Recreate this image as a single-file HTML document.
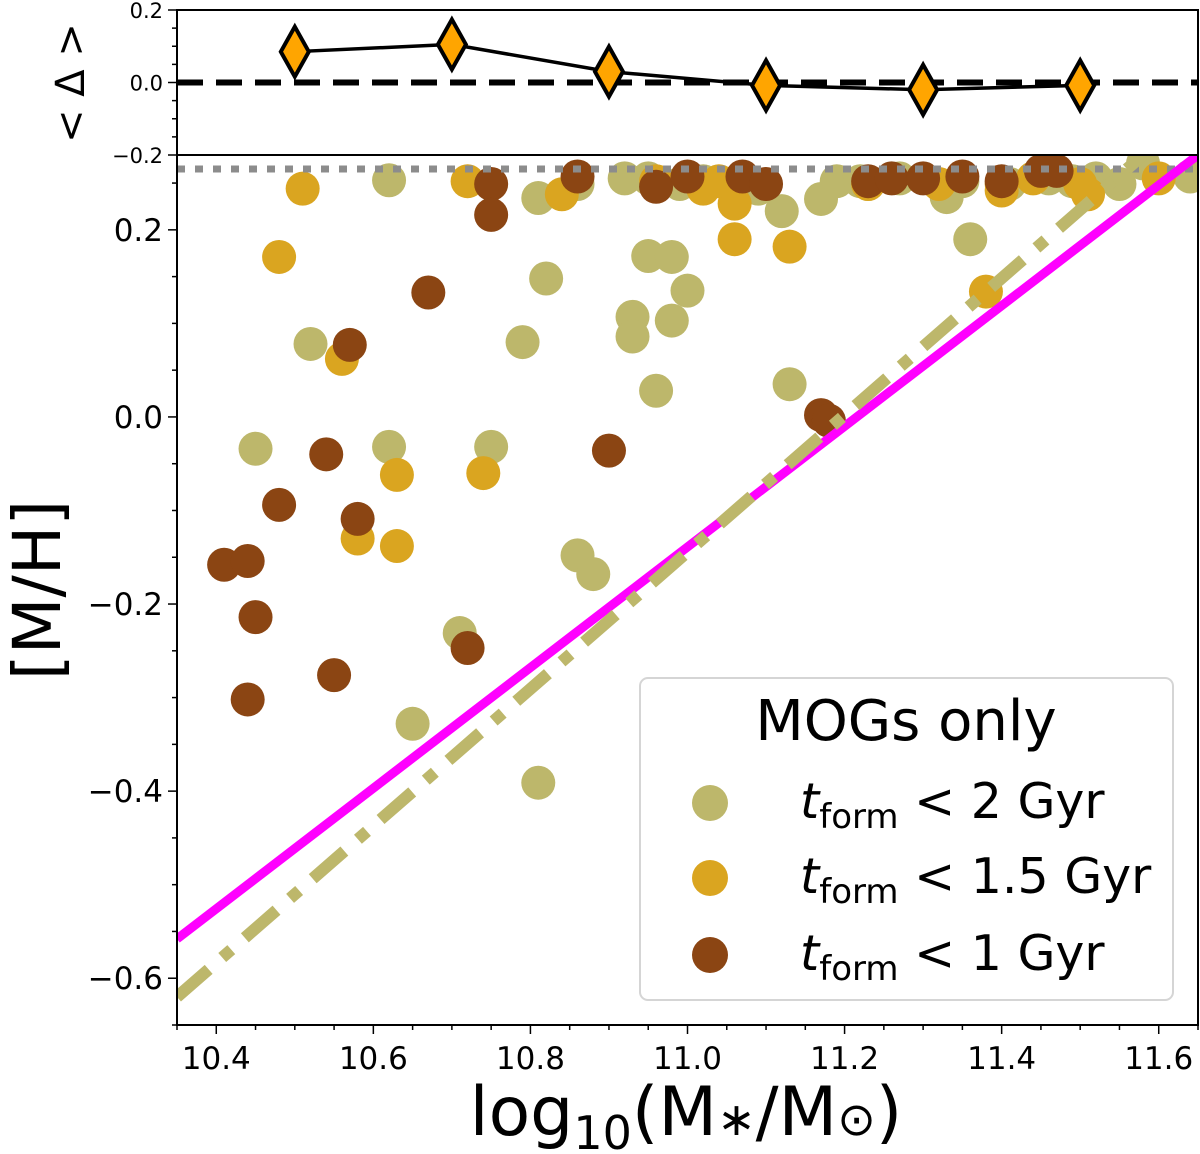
<!DOCTYPE html>
<html><head><meta charset="utf-8"><style>
body{margin:0;background:#fff;}
svg{display:block;font-family:"DejaVu Sans","Liberation Sans",sans-serif;}
</style></head><body>
<svg id="chart" width="1200" height="1154" viewBox="0 0 1200 1154"></svg>
<script>
const xTicks=[10.4,10.6,10.8,11.0,11.2,11.4,11.6];
const xTickLabels=["10.4","10.6","10.8","11.0","11.2","11.4","11.6"];
const yTicks=[0.2,0.0,-0.2,-0.4,-0.6];
const yTickLabels=["0.2","0.0","\u22120.2","\u22120.4","\u22120.6"];
const topTicks=[0.2,0.0,-0.2];
const topTickLabels=["0.2","0.0","\u22120.2"];
const binX=[10.5,10.7,10.9,11.1,11.3,11.5];
const binDelta=[0.085,0.105,0.03,-0.008,-0.02,-0.008];
const khakiX=[10.62,10.81,10.86,10.92,10.95,10.99,11.02,11.07,11.12,11.17,11.19,11.23,11.27,11.33,11.36,11.41,11.49,11.52,11.58,11.64,10.95,10.98,10.82,10.93,11.00,10.98,10.52,10.79,10.93,10.96,11.13,10.45,10.62,10.75,10.86,10.88,10.71,10.65,10.81,11.22,11.09,11.55,11.46,11.35];
const khakiY=[0.253,0.234,0.249,0.255,0.255,0.249,0.252,0.249,0.220,0.233,0.252,0.249,0.255,0.235,0.190,0.249,0.252,0.255,0.271,0.257,0.172,0.171,0.148,0.107,0.135,0.103,0.078,0.080,0.086,0.028,0.035,-0.034,-0.032,-0.032,-0.148,-0.168,-0.231,-0.328,-0.391,0.252,0.244,0.249,0.255,0.252];
const orangeX=[10.51,10.48,10.56,10.63,10.74,10.58,10.63,10.72,10.84,11.02,11.06,11.06,11.13,11.38,11.40,11.50,11.23,11.32,10.96,11.44,11.51,11.04,11.60,11.40];
const orangeY=[0.244,0.171,0.062,-0.062,-0.060,-0.130,-0.138,0.252,0.238,0.244,0.228,0.190,0.182,0.134,0.249,0.249,0.249,0.249,0.252,0.255,0.238,0.252,0.255,0.242];
const brownX=[10.86,10.75,10.75,10.96,11.00,11.07,11.10,11.23,11.26,11.30,11.35,11.40,11.45,11.47,10.67,10.57,10.54,10.58,10.90,11.17,11.18,10.48,10.41,10.44,10.45,10.55,10.72,10.44];
const brownY=[0.257,0.249,0.216,0.246,0.257,0.257,0.249,0.252,0.255,0.255,0.257,0.252,0.263,0.263,0.133,0.077,-0.040,-0.109,-0.036,0.002,-0.004,-0.094,-0.158,-0.154,-0.214,-0.276,-0.247,-0.302];
const fitMagenta=[[10.35,-0.558],[11.65,0.280]];
const fitKhaki=[[10.35,-0.620],[11.58,0.280]];
const dottedY=0.265;

const L=177,R=1198,MT=155,MB=1025,TT=10,TB=155;
const X0=10.35,X1=11.65,Y0=-0.650,Y1=0.280;
const sx=v=>L+(v-X0)/(X1-X0)*(R-L);
const sy=v=>MT+(Y1-v)/(Y1-Y0)*(MB-MT);
const ty=v=>TT+(0.2-v)/0.4*(TB-TT);
const svgEl=document.getElementById('chart');
const NS='http://www.w3.org/2000/svg';
function mk(tag,attrs,parent){const e=document.createElementNS(NS,tag);for(const k in attrs)e.setAttribute(k,attrs[k]);(parent||svgEl).appendChild(e);return e;}

const defs=mk('defs',{});
const cp=mk('clipPath',{id:'mc'},defs);mk('rect',{x:L,y:MT,width:R-L,height:MB-MT},cp);
const cp2=mk('clipPath',{id:'tc'},defs);mk('rect',{x:L,y:TT,width:R-L,height:TB-TT},cp2);

const mainG=mk('g',{'clip-path':'url(#mc)'});


const series=[[khakiX,khakiY,'#bdb76b','khaki-point'],[orangeX,orangeY,'#daa520','orange-point'],[brownX,brownY,'#8b4513','brown-point']];
series.forEach(s=>{s[0].forEach((x,i)=>{const c=mk('circle',{cx:sx(x),cy:sy(s[1][i]),r:17,fill:s[2]},mainG);

});});
const dl=mk('line',{x1:L,x2:R,y1:sy(dottedY),y2:sy(dottedY),stroke:'#8c8c8c','stroke-width':7,'stroke-dasharray':'8 10'},mainG);


const mg=mk('line',{x1:sx(fitMagenta[0][0]),y1:sy(fitMagenta[0][1]),x2:sx(fitMagenta[1][0]),y2:sy(fitMagenta[1][1]),stroke:'#ff00ff','stroke-width':9},mainG);


const kg=mk('line',{x1:sx(fitKhaki[0][0]),y1:sy(fitKhaki[0][1]),x2:sx(fitKhaki[1][0]),y2:sy(fitKhaki[1][1]),stroke:'#bdb76b','stroke-width':12,'stroke-dasharray':'42 18 12 18'},mainG);



mk('rect',{x:L,y:MT,width:R-L,height:MB-MT,fill:'none',stroke:'#000','stroke-width':2});
mk('rect',{x:L,y:TT,width:R-L,height:TB-TT,fill:'none',stroke:'#000','stroke-width':2});

for(let k=0;k<=26;k++){const v=10.35+k*0.05;const x=sx(v);const major=(k%4)===1;
mk('line',{x1:x,x2:x,y1:MB,y2:MB+(major?9:5),stroke:'#000','stroke-width':1.5});}
xTicks.forEach((v,i)=>{const t=mk('text',{x:sx(v),y:MB+44,'font-size':31,'text-anchor':'middle'});t.textContent=xTickLabels[i];

});
for(let k=-13;k<=5;k++){const v=k*0.05;const y=sy(v);if(y<MT)continue;const major=k%4===0;
mk('line',{x1:L,x2:L-(major?9:5),y1:y,y2:y,stroke:'#000','stroke-width':1.5});}
yTicks.forEach((v,i)=>{const t=mk('text',{x:L-14,y:sy(v)+11,'font-size':31,'text-anchor':'end'});t.textContent=yTickLabels[i];

});
for(let k=-4;k<=4;k++){const v=k*0.05;const y=ty(v);const major=k%4===0;
mk('line',{x1:L,x2:L-(major?9:5),y1:y,y2:y,stroke:'#000','stroke-width':1.5});}
topTicks.forEach((v,i)=>{const t=mk('text',{x:L-14,y:ty(v)+8,'font-size':21,'text-anchor':'end'});t.textContent=topTickLabels[i];

});

const topG=mk('g',{'clip-path':'url(#tc)'});


mk('line',{x1:L,x2:R,y1:ty(0),y2:ty(0),stroke:'#000','stroke-width':6,'stroke-dasharray':'26 13'},topG);
mk('polyline',{points:binX.map((x,i)=>sx(x)+','+ty(binDelta[i])).join(' '),fill:'none',stroke:'#000','stroke-width':3.5},topG);
binX.forEach((x,i)=>{const cx=sx(x),cy=ty(binDelta[i]);const d=mk('polygon',{points:`${cx},${cy-25} ${cx+14},${cy} ${cx},${cy+25} ${cx-14},${cy}`,fill:'#ffa500',stroke:'#000','stroke-width':4},topG);

});
</script>
<svg style="position:absolute;left:0;top:0" width="1200" height="1154">
<text x="84" y="83" font-size="40" text-anchor="middle" transform="rotate(-90 84 83)" font-family="DejaVu Sans,sans-serif">&lt;  Δ  &gt;</text>
<text x="60" y="590" font-size="66" text-anchor="middle" transform="rotate(-90 60 590)" font-family="DejaVu Sans,sans-serif">[M/H]</text>
<text x="686" y="1135" font-size="68" text-anchor="middle" font-family="DejaVu Sans,sans-serif">log<tspan font-size="46" dy="14">10</tspan><tspan dy="-14">(M</tspan><tspan font-size="46">∗</tspan>/M<tspan font-size="46">⊙</tspan>)</text>
<g font-family="DejaVu Sans,sans-serif">
<rect x="640" y="678" width="533" height="322" rx="8" fill="#fff" fill-opacity="0.8" stroke="#d5d5d5" stroke-width="2"/>
<text x="906" y="740" font-size="56" text-anchor="middle">MOGs only</text>
<circle cx="710" cy="803" r="18" fill="#bdb76b"/>
<text x="800" y="818" font-size="49"><tspan font-style="italic">t</tspan><tspan font-size="34" dy="10">form</tspan><tspan dy="-10"> &lt; 2 Gyr</tspan></text>
<circle cx="710" cy="878" r="18" fill="#daa520"/>
<text x="800" y="893" font-size="49"><tspan font-style="italic">t</tspan><tspan font-size="34" dy="10">form</tspan><tspan dy="-10"> &lt; 1.5 Gyr</tspan></text>
<circle cx="710" cy="955" r="18" fill="#8b4513"/>
<text x="800" y="970" font-size="49"><tspan font-style="italic">t</tspan><tspan font-size="34" dy="10">form</tspan><tspan dy="-10"> &lt; 1 Gyr</tspan></text>
</g>
</svg>
</body></html>
